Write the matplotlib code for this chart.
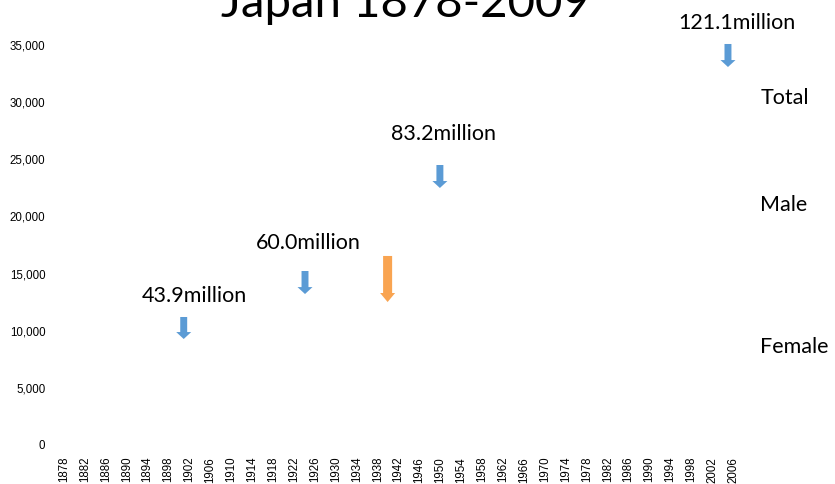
import matplotlib
matplotlib.use("Agg")
import matplotlib.pyplot as plt

# category axis: every year, labelled every 4th year
years = list(range(1878, 2010))
tick_years = years[::4]
y_ticks = [0, 5000, 10000, 15000, 20000, 25000, 30000, 35000]

# population call-outs (text, year, value at baseline)
label_text = ["43.9million", "60.0million", "83.2million", "121.1million"]
label_year = [1903.0, 1924.7, 1950.6, 2006.7]
label_value = [12510, 17150, 26690, 36430]

# series names on the right
series_names = ["Total", "Male", "Female"]
series_value = [29840, 20500, 8090]

# arrows: year, top value, tip value
arrow_year = [1900.9, 1924.1, 1949.9, 2005.0]
arrow_top = [11200, 15225, 24500, 35090]
arrow_tip = [9275, 13210, 22490, 33075]
orange_year = 1939.9
orange_top = 16540
orange_tip = 12510

fig = plt.figure(figsize=(8.35, 4.84), dpi=100)
ax = fig.add_axes([0.0735, 0.0806, 0.8265, 0.8264])

ax.set_xlim(1877.5, 2009.5)
ax.set_ylim(0, 35000)
ax.set_xticks(tick_years)
ax.set_xticklabels([str(y) for y in tick_years], rotation=90,
                   fontfamily="Liberation Sans", fontsize=8.3)
ax.set_yticks(y_ticks)
ax.set_yticklabels(["{:,}".format(v) for v in y_ticks],
                   fontfamily="Liberation Sans", fontsize=8.3)
ax.tick_params(axis="x", length=0, pad=8.5)
ax.tick_params(axis="y", length=0, pad=11.5)
for s in ax.spines.values():
    s.set_visible(False)

blue = "#5b9bd5"
orange = "#f9a451"
for i in range(len(arrow_year)):
    ax.annotate("", xy=(arrow_year[i], arrow_tip[i]),
                xytext=(arrow_year[i], arrow_top[i]),
                arrowprops=dict(arrowstyle="simple,head_length=5,head_width=10.8,tail_width=5",
                                mutation_scale=1, color=blue, lw=0,
                                shrinkA=0, shrinkB=0))
ax.annotate("", xy=(orange_year, orange_tip), xytext=(orange_year, orange_top),
            arrowprops=dict(arrowstyle="simple,head_length=6.5,head_width=10.8,tail_width=6.5",
                            mutation_scale=1, color=orange, lw=0,
                            shrinkA=0, shrinkB=0))

for i in range(len(label_text)):
    ax.text(label_year[i], label_value[i], label_text[i], ha="center",
            va="baseline", fontfamily="Lato", fontsize=15.5, clip_on=False)

for i in range(len(series_names)):
    ax.text(2011.2, series_value[i], series_names[i], ha="left",
            va="baseline", fontfamily="Lato", fontsize=15.5, clip_on=False)

# title sits partly above the top edge, as in the original slide
fig.text(405 / 835, (484 - 17) / 484, "Japan 1878-2009", ha="center",
         va="baseline", fontfamily="Lato", fontsize=34)

fig.savefig("out.png", dpi=100)
